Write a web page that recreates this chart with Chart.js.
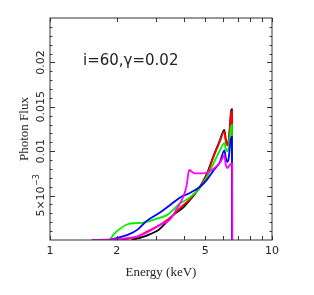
<!DOCTYPE html>
<html>
<head>
  <title>Photon Flux</title>
  <script src="https://cdn.jsdelivr.net/npm/chart.js"></script>
  <style>
    body { margin: 0; background: #ffffff; }
    #wrap { width: 314px; height: 295px; }
  </style>
</head>
<body>
  <div id="wrap"><canvas id="chart" width="314" height="295"></canvas></div>

  <script>
    // energy (keV) and photon flux
    const blackE    = [2.33, 2.5, 2.67, 2.85, 3.07, 3.2, 3.59, 4.0, 4.27, 4.74, 5.1, 5.44, 5.8, 6.1, 6.2, 6.29, 6.38, 6.48, 6.55, 6.6, 6.61];
    const blackFlux = [0, 0.0002, 0.0004, 0.0007, 0.0011, 0.0015, 0.0028, 0.0037, 0.0045, 0.006, 0.0075, 0.0094, 0.0111, 0.0124, 0.0112, 0.0107, 0.0112, 0.0132, 0.0147, 0.0147, 0];

    const redE    = [2.1, 2.3, 2.5, 2.71, 2.87, 3.13, 3.59, 3.85, 4.27, 4.74, 5.1, 5.44, 5.8, 6.1, 6.2, 6.29, 6.38, 6.48, 6.55, 6.6, 6.61];
    const redFlux = [0, 0.0002, 0.0004, 0.0009, 0.0012, 0.0017, 0.0028, 0.0036, 0.0046, 0.006, 0.0074, 0.0093, 0.011, 0.0122, 0.0111, 0.0107, 0.0111, 0.013, 0.0145, 0.0145, 0];

    const greenE    = [1.86, 1.93, 2.05, 2.25, 2.45, 2.63, 3.02, 3.36, 3.85, 4.27, 4.74, 5.1, 5.44, 5.8, 6.1, 6.2, 6.29, 6.38, 6.48, 6.55, 6.6, 6.61];
    const greenFlux = [0, 0.0006, 0.0012, 0.0018, 0.0019, 0.00195, 0.0024, 0.0028, 0.0041, 0.0048, 0.0059, 0.0071, 0.0086, 0.01, 0.0109, 0.0102, 0.01, 0.0104, 0.012, 0.0129, 0.0129, 0];

    const blueE    = [1.85, 1.99, 2.25, 2.49, 2.71, 3.13, 3.5, 3.92, 4.27, 4.74, 5.1, 5.44, 5.83, 6.1, 6.2, 6.29, 6.38, 6.48, 6.55, 6.6, 6.61];
    const blueFlux = [0, 0.0002, 0.0006, 0.0012, 0.0021, 0.0031, 0.004, 0.0049, 0.0053, 0.006, 0.0068, 0.0078, 0.0088, 0.0101, 0.0092, 0.0088, 0.0092, 0.0108, 0.0116, 0.0116, 0];

    const magentaE    = [1.54, 1.8, 2.0, 2.32, 2.54, 2.71, 3.13, 3.47, 3.72, 3.99, 4.13, 4.2, 4.25, 4.35, 4.5, 4.8, 5.08, 5.44, 5.83, 6.1, 6.2, 6.29, 6.4, 6.55, 6.62, 6.63];
    const magentaFlux = [0, 0.00003, 0.0001, 0.00026, 0.0005, 0.0008, 0.0017, 0.0023, 0.0035, 0.0049, 0.0062, 0.0075, 0.0079, 0.0077, 0.0075, 0.0075, 0.0076, 0.008, 0.0087, 0.0095, 0.0084, 0.0081, 0.0083, 0.0086, 0.0086, 0];

    const xTicks = [1, 2, 3, 4, 5, 6, 7, 8, 9, 10];
    const xLabels = [1, 2, 5, 10];
    const yMajor = [0, 0.005, 0.01, 0.015, 0.02, 0.025];
    const yLabels = ['', '5×10', '0.01', '0.015', '0.02', ''];

    function pts(xs, ys) {
      return xs.map((x, i) => ({ x: x, y: ys[i] }));
    }

    function line(data, color) {
      return {
        data: data,
        showLine: true,
        borderColor: color,
        borderWidth: 1.8,
        pointRadius: 0,
        cubicInterpolationMode: 'monotone'
      };
    }

    // frame, inward ticks on all sides, tick labels and titles
    const frame = {
      id: 'frame',
      afterDraw(chart) {
        const ctx = chart.ctx;
        const a = chart.chartArea;
        const xs = chart.scales.x;
        const ys = chart.scales.y;
        ctx.save();
        ctx.strokeStyle = '#333';
        ctx.lineWidth = 1;
        ctx.strokeRect(a.left, a.top, a.right - a.left, a.bottom - a.top);

        ctx.beginPath();
        xTicks.forEach(v => {
          const px = Math.round(xs.getPixelForValue(v)) + 0.5;
          ctx.moveTo(px, a.bottom); ctx.lineTo(px, a.bottom - 4);
          ctx.moveTo(px, a.top); ctx.lineTo(px, a.top + 4);
        });
        for (let k = 1; k < 25; k++) {
          const v = k * 0.001;
          const len = k % 5 === 0 ? 5 : 2.5;
          const py = Math.round(ys.getPixelForValue(v)) + 0.5;
          ctx.moveTo(a.left, py); ctx.lineTo(a.left + len, py);
          ctx.moveTo(a.right, py); ctx.lineTo(a.right - len, py);
        }
        ctx.stroke();

        ctx.fillStyle = '#222';
        ctx.font = '11px "DejaVu Sans"';
        ctx.textAlign = 'center';
        ctx.textBaseline = 'middle';
        xLabels.forEach(v => {
          ctx.fillText(String(v), xs.getPixelForValue(v), 251);
        });

        yMajor.forEach((v, i) => {
          const txt = yLabels[i];
          if (!txt) return;
          const py = ys.getPixelForValue(v);
          ctx.save();
          ctx.translate(44, py);
          ctx.rotate(-Math.PI / 2);
          ctx.textBaseline = 'alphabetic';
          if (txt === '5×10') {
            ctx.font = '11px "DejaVu Sans"';
            const w1 = ctx.measureText(txt).width;
            ctx.font = '8px "DejaVu Sans"';
            const w2 = ctx.measureText('−3').width;
            const start = -(w1 + w2) / 2;
            ctx.textAlign = 'left';
            ctx.font = '11px "DejaVu Sans"';
            ctx.fillText(txt, start, 0);
            ctx.font = '8px "DejaVu Sans"';
            ctx.fillText('−3', start + w1 + 0.5, -5);
          } else {
            ctx.textAlign = 'center';
            ctx.fillText(txt, 0, 0);
          }
          ctx.restore();
        });

        ctx.font = '13px "Liberation Serif"';
        ctx.textAlign = 'center';
        ctx.textBaseline = 'alphabetic';
        ctx.fillText('Energy (keV)', (a.left + a.right) / 2, 276);

        ctx.save();
        ctx.translate(28, 129);
        ctx.rotate(-Math.PI / 2);
        ctx.fillText('Photon Flux', 0, 0);
        ctx.restore();

        ctx.font = '15px "DejaVu Sans"';
        ctx.textAlign = 'left';
        ctx.fillText('i=60,γ=0.02', 83, 65);
        ctx.restore();
      }
    };

    new Chart(document.getElementById('chart'), {
      type: 'scatter',
      data: {
        datasets: [
          line(pts(magentaE, magentaFlux), '#ff00ff'),
          line(pts(blueE, blueFlux), '#0000ff'),
          line(pts(greenE, greenFlux), '#00ee00'),
          line(pts(redE, redFlux), '#ff0000'),
          line(pts(blackE, blackFlux), '#000000')
        ]
      },
      options: {
        responsive: false,
        animation: false,
        layout: { padding: { left: 50, right: 42, top: 18, bottom: 55 } },
        plugins: { legend: { display: false }, tooltip: { enabled: false } },
        scales: {
          x: { type: 'logarithmic', min: 1, max: 10, display: false },
          y: { type: 'linear', min: 0, max: 0.025, display: false }
        }
      },
      plugins: [frame]
    });
  </script>
</body>
</html>
